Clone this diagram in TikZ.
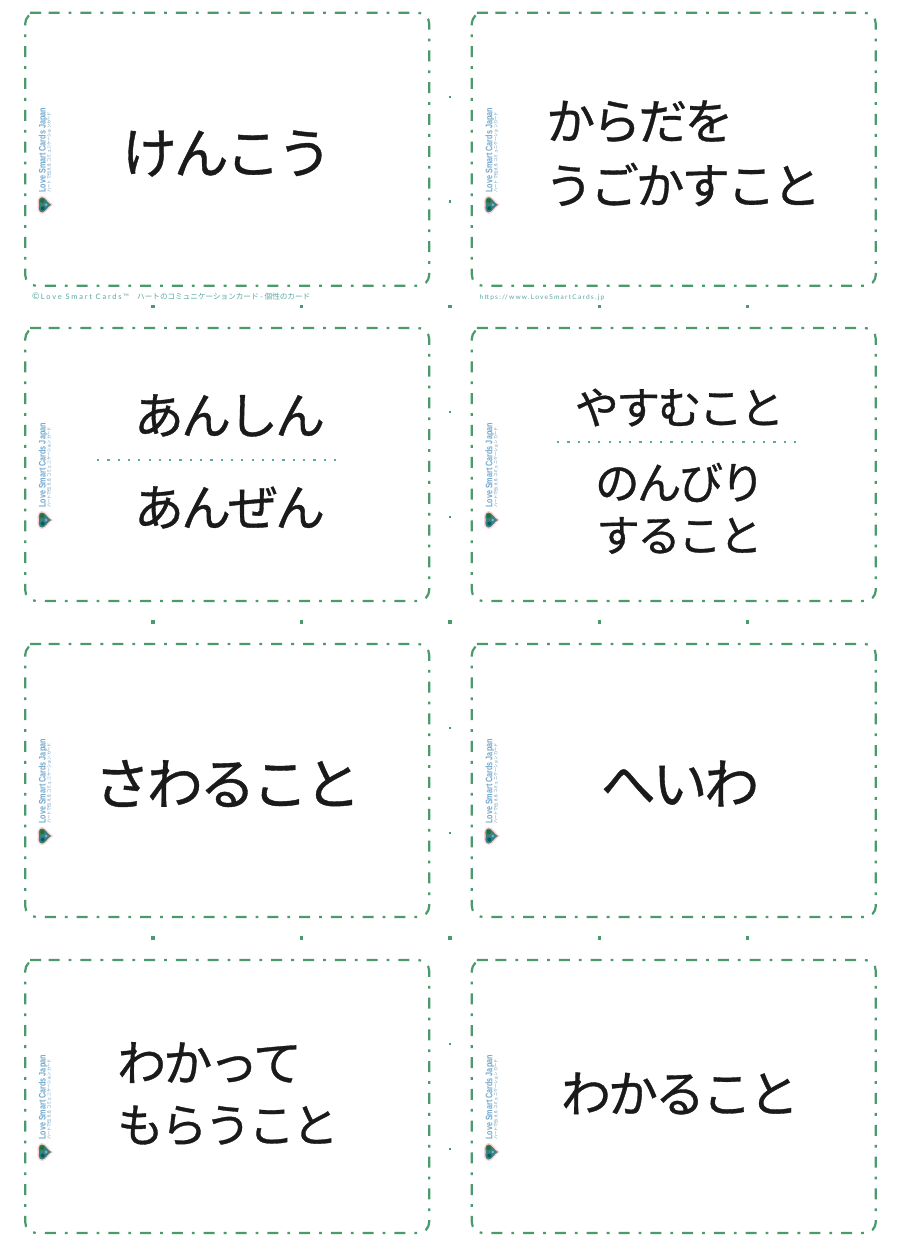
\documentclass[tikz,border=0pt]{standalone}
\usepackage{fontspec}
\newfontfamily\jp[FakeBold=0.7,LetterSpace=-6]{Noto Sans CJK JP}
\newfontfamily\jpl{Noto Sans CJK JP}
\setmainfont{Liberation Sans}
\newfontfamily\lato{Lato}
\definecolor{cutg}{HTML}{4A9A6C}
\definecolor{tealt}{HTML}{5AA8A0}
\definecolor{logob}{HTML}{6FA8CE}
\definecolor{inkk}{HTML}{1A1A1A}
\tikzset{
 x=1pt,y=-1pt,
 cardbox/.style={draw=cutg,line width=2.2pt,dash pattern=on 11pt off 9pt on 2.79pt off 9pt},
 word/.style={font=\jp\fontsize{#1}{#1}\selectfont,text=inkk,inner sep=0pt,anchor=center},
 wordw/.style={word=#1,anchor=west},
 foot/.style={text=tealt,inner sep=0pt,anchor=base west},
 tick/.style={fill=cutg,minimum size=3.2pt,inner sep=0pt,draw=none,rectangle},
 sep/.style={draw=tealt,line width=1.3pt,dash pattern=on 2.2pt off 8.1pt},
 logoa/.style={font=\bfseries\fontsize{9.5}{9.5}\selectfont,text=logob,inner sep=0pt,rotate=90,anchor=base west},
 logoc/.style={font=\jpl\fontsize{4.2}{4.2}\selectfont,text=logob!85!black,inner sep=0pt,rotate=90,anchor=base west}
}
\newcommand{\cardat}[3]{%
 \draw[cardbox,rounded corners=11pt] (#1+12.5,#2) -- (#1+404,#2) -- (#1+404,#2+273) -- (#1,#2+273) -- (#1,#2) -- cycle;
 \node[logoa] (#3a) at (#1+20.5,#2+180) {\scalebox{0.76}[1]{Love Smart Cards Japan}};
 \node[logoc] (#3c) at (#1+25.5,#2+180) {ハートで伝える コミュニケーションカード};
 \fill[red!18!white] (#1+28,#2+192) .. controls (#1+24,#2+190) and (#1+21,#2+183) .. (#1+17,#2+183) .. controls (#1+13,#2+183) and (#1+11.5,#2+188) .. (#1+12.5,#2+192) .. controls (#1+11.5,#2+196) and (#1+13,#2+201) .. (#1+17,#2+201) .. controls (#1+21,#2+201) and (#1+24,#2+194) .. (#1+28,#2+192) -- cycle;
 \fill[teal!55!gray] (#1+26,#2+192) .. controls (#1+23,#2+191) and (#1+20,#2+184.5) .. (#1+17,#2+184.5) .. controls (#1+14,#2+184.5) and (#1+13,#2+188) .. (#1+14,#2+192) .. controls (#1+13,#2+196) and (#1+14,#2+199.5) .. (#1+17,#2+199.5) .. controls (#1+20,#2+199.5) and (#1+23,#2+193) .. (#1+26,#2+192) -- cycle;
 \fill[green!35!black!85] (#1+17,#2+188) circle (2.2pt);
 \fill[teal!75!black] (#1+17.5,#2+195.5) circle (2pt);
 \fill[blue!25!teal!50!white] (#1+21,#2+192) circle (1.5pt);
}
\begin{document}
\begin{tikzpicture}
\useasboundingbox (0,0) rectangle (900,1246);
\fill[white] (0,0) rectangle (900,1246);
\cardat{25.2}{12.8}{ca}
\cardat{471.8}{12.8}{cb}
\cardat{25.2}{328}{cc}
\cardat{471.8}{328}{cd}
\cardat{25.2}{644}{ce}
\cardat{471.8}{644}{cf}
\cardat{25.2}{960}{cg}
\cardat{471.8}{960}{ch}
\node[word=55] (t1) at (227,153.5) {けんこう};
\node[wordw=49] (t2a) at (546,121.5) {からだを};
\node[wordw=48.5] (t2b) at (544.5,184.5) {うごかすこと};
\node[word=50] (t3a) at (229.5,415.5) {あんしん};
\node[word=50] (t3b) at (229.5,507.5) {あんぜん};
\draw[sep] (97,460) -- (337,460);
\node[word=44] (t4a) at (679.5,407.5) {やすむこと};
\draw[sep] (557,442) -- (797,442);
\node[word=44.5] (t4b) at (680,482.5) {のんびり};
\node[word=43.5] (t4c) at (679.5,535.5) {すること};
\node[word=56] (t5) at (227.5,783.5) {さわること};
\node[word=55] (t6) at (680,783.5) {へいわ};
\node[wordw=49] (t7a) at (117,1062.5) {わかって};
\node[wordw=46.5] (t7b) at (117,1125.5) {もらうこと};
\node[word=50] (t8) at (680,1093.5) {わかること};
\node[foot,font=\lato\fontsize{7.5}{8}\selectfont\addfontfeature{LetterSpace=24}] (f1) at (32,299) {{\fontsize{9}{9}\selectfont ©}\,Love Smart Cards™};
\node[foot,font=\jpl\fontsize{7.6}{8}\selectfont] (f2) at (137,299) {ハートのコミュニケーションカード - 個性のカード};
\node[foot,font=\lato\fontsize{6.6}{8}\selectfont\addfontfeature{LetterSpace=18.5}] (f3) at (479.5,299) {https://www.LoveSmartCards.jp};
\foreach \yy in {306.5,622,938} \foreach \xx in {153,301.5,450,599.5,747.5} \node[tick] at (\xx,\yy) {};
\foreach \yy in {97,201.5,412,517,728,833,1044,1149} \node[tick,minimum width=2.8pt,minimum height=2.2pt] at (450,\yy) {};
\end{tikzpicture}
\end{document}
